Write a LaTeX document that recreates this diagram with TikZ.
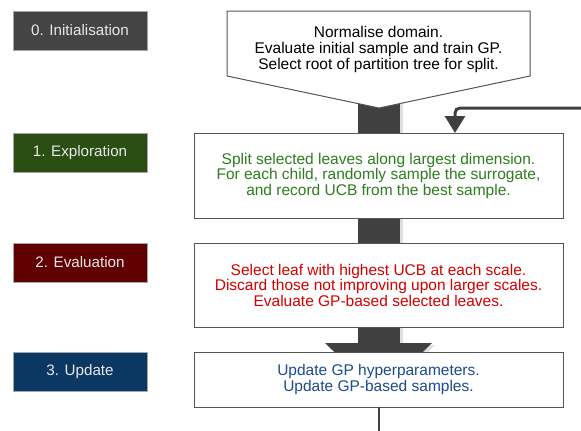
\documentclass[tikz,border=0pt]{standalone}
\usepackage{fontspec}
\setmainfont{Liberation Sans}
\usetikzlibrary{arrows.meta}
\definecolor{barcol}{HTML}{404040}
\definecolor{lab0}{HTML}{444444}
\definecolor{lab1}{HTML}{2A4D14}
\definecolor{lab2}{HTML}{600000}
\definecolor{lab3}{HTML}{0B3763}
\definecolor{labtxt}{HTML}{E8E8E8}
\definecolor{txtgreen}{HTML}{2E7D1F}
\definecolor{txtred}{HTML}{D40000}
\definecolor{txtblue}{HTML}{1C4A8F}
\definecolor{boxline}{HTML}{555555}
\tikzset{
  labelbox/.style={draw=gray!70, line width=0.6pt, minimum width=134pt, minimum height=39pt,
    inner sep=0pt, outer sep=0pt, anchor=north west, text=labtxt,
    font=\fontsize{15.2}{15.5}\selectfont},
  mainbox/.style={draw=boxline, line width=1pt, fill=white, minimum width=369pt,
    inner sep=0pt, outer sep=0pt, anchor=north west, align=center,
    font=\fontsize{15.5}{15.5}\selectfont},
  bodytext/.style={align=center, inner sep=0pt, font=\fontsize{15.5}{16}\selectfont}
}
\begin{document}
\begin{tikzpicture}[x=1pt,y=-1pt]
\useasboundingbox (0,0) rectangle (581,431);
% trunk shadow and trunk
\fill[gray!25] (361,100) rectangle (403,345);
\fill[gray!25] (327,345) -- (435,345) -- (382,397) -- cycle;
\coordinate (trunktop) at (379,100);
\fill[barcol] (358,100) rectangle (400,343);
\fill[barcol] (325,343) -- (432,343) -- (379,395) -- cycle;
% callout
\draw[boxline, line width=1pt, fill=white] (227,11) -- (530,11) -- (530,76) -- (379,108) -- (227,76) -- cycle;
\node[bodytext] (init) at (378.5,49) {Normalise domain.\\Evaluate initial sample and train GP.\\Select root of partition tree for split.};
% main boxes
\node[mainbox, minimum height=85pt, text=txtgreen] (explore) at (194,133)
  {Split selected leaves along largest dimension.\\For each child, randomly sample the surrogate,\\and record UCB from the best sample.};
\node[mainbox, minimum height=84pt, text=txtred] (evaluate) at (194,243)
  {Select leaf with highest UCB at each scale.\\Discard those not improving upon larger scales.\\Evaluate GP-based selected leaves.};
\node[mainbox, minimum height=55pt, text=txtblue] (update) at (194,352)
  {Update GP hyperparameters.\\Update GP-based samples.};
% labels
\node[labelbox, fill=lab0] (l0) at (13,11) {0. Initialisation};
\node[labelbox, fill=lab1] (l1) at (13,133) {1. Exploration};
\node[labelbox, fill=lab2] (l2) at (13,243) {2. Evaluation};
\node[labelbox, fill=lab3] (l3) at (13,352) {3. Update};
% feedback arrow
\coordinate (fbstart) at (581,108);
\coordinate (fbend) at (455,133);
\draw[barcol, line width=3pt, rounded corners=5pt, -{Triangle[width=20pt,length=17pt]}]
  (fbstart) -| (fbend);
% bottom line
\coordinate (bottomend) at (379,431);
\draw[barcol, line width=2.5pt] (update.south -| bottomend) -- (bottomend);
\end{tikzpicture}
\end{document}
